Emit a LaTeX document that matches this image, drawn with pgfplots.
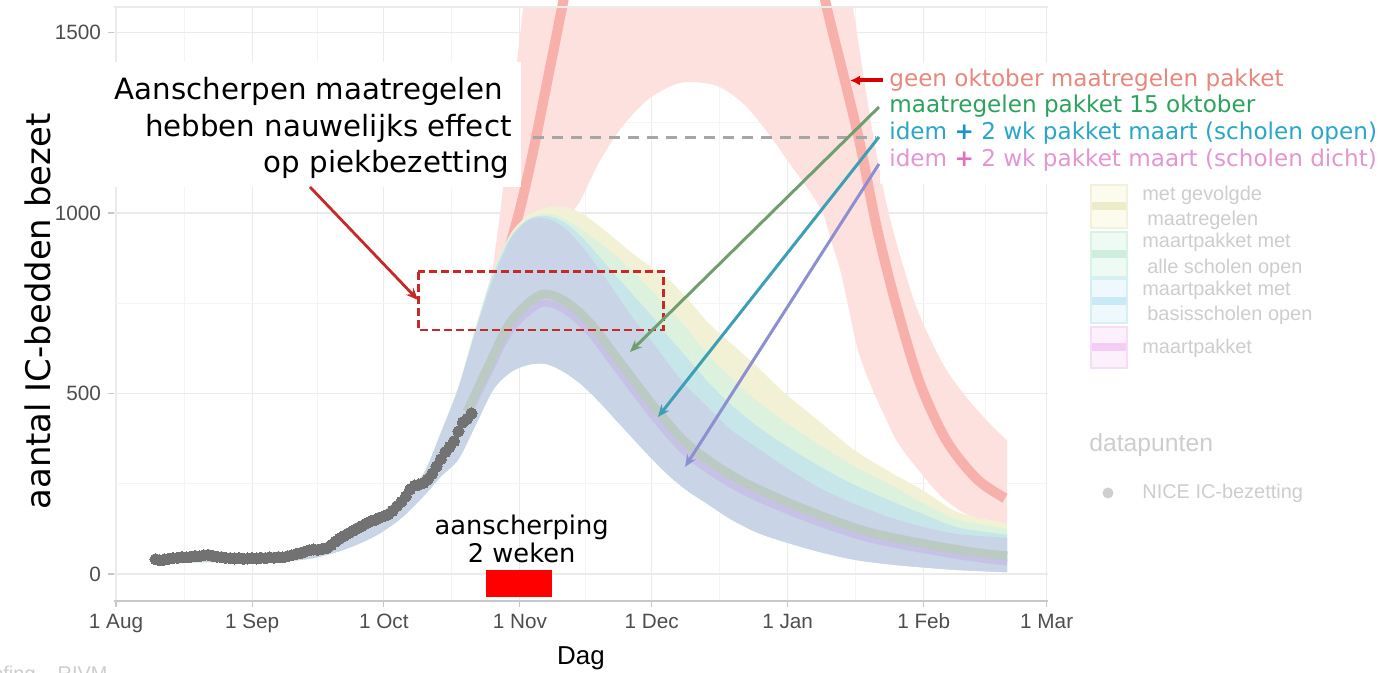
\documentclass[border=0pt]{standalone}
\usepackage{pgfplots}
\pgfplotsset{compat=1.18}
\usepackage{pgfplotstable}
\usepgfplotslibrary{fillbetween}
\usetikzlibrary{arrows.meta}
\usepackage{fontspec}
\setmainfont{Liberation Sans}
\newfontfamily\dv{DejaVu Sans}

\definecolor{gridmajor}{HTML}{EBEBEB}
\definecolor{gridminor}{HTML}{F4F4F4}
\definecolor{axisgrey}{HTML}{C8C8C8}
\definecolor{ticklab}{HTML}{4D4D4D}
\definecolor{redband}{HTML}{FDE1DF}
\definecolor{redline}{HTML}{F8B0AB}
\definecolor{yelband}{HTML}{F3F1D5}
\definecolor{grnband}{HTML}{DCF1DE}
\definecolor{bluband}{HTML}{C6E6EA}
\definecolor{pnkband}{HTML}{C9D4E6}
\definecolor{stripeA}{HTML}{BCCAC4}
\definecolor{stripeB}{HTML}{C7C1E8}
\definecolor{dotgrey}{HTML}{727272}
\definecolor{annred}{HTML}{C82828}
\definecolor{labred}{HTML}{E8877C}
\definecolor{labgrn}{HTML}{2CA25F}
\definecolor{labcyan}{HTML}{2AA6C8}
\definecolor{pluscyan}{HTML}{1E90CF}
\definecolor{labpink}{HTML}{E496D2}
\definecolor{pluspink}{HTML}{E070C2}
\definecolor{ptrgrn}{HTML}{6F9E6F}
\definecolor{ptrcyan}{HTML}{3D9FB5}
\definecolor{ptrviol}{HTML}{8D8FD0}
\definecolor{legtext}{HTML}{CDCDCD}
\definecolor{legdot}{HTML}{CFCFCF}
\definecolor{kyf}{HTML}{FBFBEE}\definecolor{kyb}{HTML}{F3F1DC}\definecolor{kys}{HTML}{EEECC8}
\definecolor{kgf}{HTML}{EEFAF4}\definecolor{kgb}{HTML}{D8F2E4}\definecolor{kgs}{HTML}{CDEEDD}
\definecolor{kbf}{HTML}{EEF8FD}\definecolor{kbb}{HTML}{D6EEF8}\definecolor{kbs}{HTML}{C8E9F6}
\definecolor{kpf}{HTML}{FDF0FD}\definecolor{kpb}{HTML}{F6DCF6}\definecolor{kps}{HTML}{F4CDF4}

% days counted from 1 Aug (= 0)
\pgfplotstableread{
d lo pk bl gr ye
8 28 45 46 47 48
20 33 52 52 53 54
35 33 50 51 52 53
44 42 62 63 64 65
50 60 85 86 87 88
55 82 118 119 120 121
60 112 165 166 167 168
65 155 212 213 214 215
70 215 275 276 277 278
74 270 390 391 392 393
78 318 515 516 518 520
82 415 676 680 684 688
86 512 820 832 840 842
90 560 930 935 940 945
94 580 980 983 985 995
98 582 985 992 998 1015
102 560 960 975 985 1018
106 525 910 935 955 1000
110 478 845 880 920 965
114 425 775 825 880 925
118 372 705 770 835 885
122 320 645 715 785 850
126 272 580 655 735 815
130 232 520 600 680 765
135 192 460 530 605 695
140 152 400 470 545 640
146 115 350 410 480 575
152 90 300 360 425 505
160 62 240 300 360 425
168 40 195 248 300 345
176 27 158 205 250 285
184 18 130 165 195 230
192 11 110 128 150 170
203 5 100 109 125 141
}\bandtab

\pgfplotstableread{
d v
75 380
78 470
82 620
85 790
87.5 1000
90 1280
93 1600
96 2000
100 2500
115 3200
130 3500
145 3200
158 2400
163 1950
168 1560
172 1250
176 1000
182 750
188 590
193 500
198 430
203 369
}\redup

\pgfplotstableread{
d v
75 370
80 440
85 590
90 760
95 880
100 960
104 1005
106 1040
110 1140
115 1235
121 1313
127 1355
131.4 1363
137.6 1349
143.7 1294
149.7 1202
154 1128
158 1060
161 1000
163 920
165 840
167 730
169 620
172 520
175 440
178 365
183 285
188 215
193 170
198 145
203 135
}\redlo

\pgfplotstableread{
d v
75 375
80 500
84 660
86 760
89 880
92 1010
95 1170
98 1350
101.6 1570
104 1720
110 2150
120 2700
131 2900
142 2700
152 2200
158 1800
161.9 1570
166 1368
169.5 1190
173.3 960
177.8 741
183.1 529
189.2 369
196.1 263
202.5 210
}\redmed

\pgfplotstableread{
d a b
80 450 438
85 580 562
90 700 678
96.6 773 748
102 758 733
108 695 668
115.6 574 545
123.2 454 425
130.8 353 325
142.1 260 235
157.3 177 155
172.5 113 95
192.3 66 50
203 50 33
}\medtab

\pgfplotstableread{
d v
9 41
10 38
11 40
12 42
13 44
14 45
15 47
16 46
17 48
18 50
19 49
20 52
21 53
22 50
23 48
24 47
25 45
26 44
27 43
28 44
29 42
30 43
31 44
32 43
33 45
34 44
35 46
36 45
37 47
38 46
39 49
40 52
41 55
42 58
43 62
44 66
45 68
46 67
47 70
48 72
49 80
50 90
51 99
52 106
53 113
54 120
55 127
56 133
57 140
58 146
59 150
60 156
61 160
62 165
63 175
64 188
65 200
66 215
67 235
68 245
69 248
70 252
71 262
72 278
73 298
74 318
75 338
76 352
77 368
78 395
79 420
80 430
81 445
}\nicedata

\begin{document}
\begin{tikzpicture}
\begin{axis}[
  set layers,
  at={(57bp,36bp)}, anchor=south west,
  scale only axis, width=467bp, height=297bp,
  xmin=-0.46, xmax=212.3, ymin=-74.8, ymax=1571,
  xtick={0,31,61,92,122,153,184,212},
  xticklabels={1 Aug,1 Sep,1 Oct,1 Nov,1 Dec,1 Jan,1 Feb,1 Mar},
  minor xtick={15.5,46,76.5,107,137.5,168.5,198},
  ytick={0,500,1000,1500}, yticklabels={0,500,1000,1500},
  minor ytick={250,750,1250},
  grid=both,
  major grid style={draw=gridmajor, line width=0.6bp},
  minor grid style={draw=gridminor, line width=0.5bp},
  axis x line*=bottom, axis y line*=left,
  x axis line style={draw=axisgrey, line width=0.6bp, -},
  y axis line style={draw=none, -},
  tick align=outside, major tick length=3bp, minor tick length=0pt,
  tick style={draw=axisgrey, line width=0.6bp},
  ticklabel style={font=\fontsize{10.4}{12}\selectfont, text=ticklab},
  xticklabel style={anchor=base, yshift=-10.5bp},
]
% geen oktober maatregelen pakket
\addplot[name path=ru, draw=none, smooth] table[x=d, y=v] {\redup};
\addplot[name path=rl, draw=none, smooth] table[x=d, y=v] {\redlo};
\addplot[fill=redband, draw=none] fill between[of=ru and rl];
\addplot[on layer=pre main, redline, line width=5bp, smooth] table[x=d, y=v] {\redmed};
% scenario bands
\addplot[name path=lo, draw=none, smooth] table[x=d, y=lo] {\bandtab};
\addplot[name path=ye, draw=none, smooth] table[x=d, y=ye] {\bandtab};
\addplot[name path=gr, draw=none, smooth] table[x=d, y=gr] {\bandtab};
\addplot[name path=bl, draw=none, smooth] table[x=d, y=bl] {\bandtab};
\addplot[name path=pk, draw=none, smooth] table[x=d, y=pk] {\bandtab};
\addplot[fill=yelband, draw=none] fill between[of=ye and lo];
\addplot[fill=grnband, draw=none] fill between[of=gr and lo];
\addplot[fill=bluband, draw=none] fill between[of=bl and lo];
\addplot[fill=pnkband, draw=none] fill between[of=pk and lo];
% medians
\addplot[stripeB, line width=3.5bp, smooth] table[x=d, y=b] {\medtab};
\addplot[stripeA, line width=4.5bp, smooth] table[x=d, y=a] {\medtab};
% NICE data
\addplot[only marks, mark=*, mark size=2.8bp, mark options={draw=dotgrey, fill=dotgrey, line width=0pt}] table[x=d, y=v] {\nicedata};
\end{axis}

\begin{scope}[x=0.5bp, y=-0.5bp, shift={(0,336.5bp)}]
  \draw[gridmajor, line width=0.6bp] (114,7) -- (1048,7);
  % white boxes behind the annotations
  \fill[white] (105,62) rectangle (521,187);
  \fill[white] (880,63) rectangle (1389,184);
  % main annotation
  \node[anchor=base east, inner sep=0, font=\dv\fontsize{14.7}{18}\selectfont] at (503,100) {Aanscherpen maatregelen};
  \node[anchor=base east, inner sep=0, font=\dv\fontsize{14.7}{18}\selectfont] at (512,137) {hebben nauwelijks effect};
  \node[anchor=base east, inner sep=0, font=\dv\fontsize{14.7}{18}\selectfont] at (510,173) {op piekbezetting};
  \draw[annred, line width=1.4bp, -{Stealth[length=6bp,width=5bp]}] (310,187) -- (418,300);
  \draw[annred, line width=1.3bp, dash pattern=on 4bp off 2bp] (418.3,271.7) rectangle (663.3,330);
  % capacity line
  \draw[gray!70, line width=1.5bp, dash pattern=on 5.5bp off 4bp] (533,138) -- (876,138);
  % scenario labels
  \node[anchor=base west, inner sep=0, font=\dv\fontsize{11.6}{14}\selectfont, text=labred] at (889,87) {geen oktober maatregelen pakket};
  \node[anchor=base west, inner sep=0, font=\dv\fontsize{11.6}{14}\selectfont, text=labgrn] at (889,113) {maatregelen pakket 15 oktober};
  \node[anchor=base west, inner sep=0, font=\dv\fontsize{11.6}{14}\selectfont, text=labcyan] at (889,140) {idem \textcolor{pluscyan}{\textbf{+}} 2 wk pakket maart (scholen open)};
  \node[anchor=base west, inner sep=0, font=\dv\fontsize{11.6}{14}\selectfont, text=labpink] at (889,167) {idem \textcolor{pluspink}{\textbf{+}} 2 wk pakket maart (scholen dicht)};
  \draw[red!85!black, line width=2bp, -{Latex[length=5bp,width=5bp]}] (883,80.5) -- (850,80.5);
  \draw[ptrgrn, line width=1.5bp, -{Stealth[length=6bp,width=5bp]}] (879,107) -- (630,352);
  \draw[ptrcyan, line width=1.5bp, -{Stealth[length=6bp,width=5bp]}] (879,137) -- (658,417);
  \draw[ptrviol, line width=1.5bp, -{Stealth[length=6bp,width=5bp]}] (879,164) -- (685,467);
  % aanscherping
  \node[anchor=base, inner sep=0, font=\dv\fontsize{12.9}{15}\selectfont] at (521.7,535) {aanscherping};
  \node[anchor=base, inner sep=0, font=\dv\fontsize{12.9}{15}\selectfont] at (521.7,563) {2 weken};
  \fill[red] (486,570) rectangle (552,597);
  % axis titles
  \node[rotate=90, anchor=base, inner sep=0, font=\dv\fontsize{17}{20}\selectfont] at (50,311.5) {aantal IC-bedden bezet};
  \node[anchor=base, inner sep=0, font=\fontsize{13}{15}\selectfont] at (581,665) {Dag};
  % faded legend
  \filldraw[fill=kyf, draw=kyb, line width=0.8bp] (1091,185) rectangle (1127,228);
  \fill[kys] (1092,202) rectangle (1126,210);
  \filldraw[fill=kgf, draw=kgb, line width=0.8bp] (1091,232) rectangle (1127,277);
  \fill[kgs] (1092,250) rectangle (1126,258);
  \filldraw[fill=kbf, draw=kbb, line width=0.8bp] (1091,279) rectangle (1127,323);
  \fill[kbs] (1092,297) rectangle (1126,305);
  \filldraw[fill=kpf, draw=kpb, line width=0.8bp] (1091,327) rectangle (1127,368);
  \fill[kps] (1092,343) rectangle (1126,351);
  \begin{scope}[every node/.style={anchor=west, inner sep=0, font=\fontsize{10}{12}\selectfont, text=legtext}]
    \node at (1142,195) {met gevolgde};
    \node at (1147,220) {maatregelen};
    \node at (1142,242) {maartpakket met};
    \node at (1147,268) {alle scholen open};
    \node at (1142,290) {maartpakket met};
    \node at (1147,315) {basisscholen open};
    \node at (1142,348) {maartpakket};
    \node at (1142,493) {NICE IC-bezetting};
  \end{scope}
  \node[anchor=base west, inner sep=0, font=\fontsize{12.4}{14}\selectfont, text=legtext] at (1089,452) {datapunten};
  \fill[legdot] (1108,493) circle (5.5);
  \node[anchor=base east, inner sep=0, font=\fontsize{10}{12}\selectfont, text=legtext] at (108,681) {Technische briefing – RIVM};
\end{scope}
\pgfresetboundingbox
\path[use as bounding box] (0,0) rectangle (694.5bp,336.5bp);
\end{tikzpicture}
\end{document}
